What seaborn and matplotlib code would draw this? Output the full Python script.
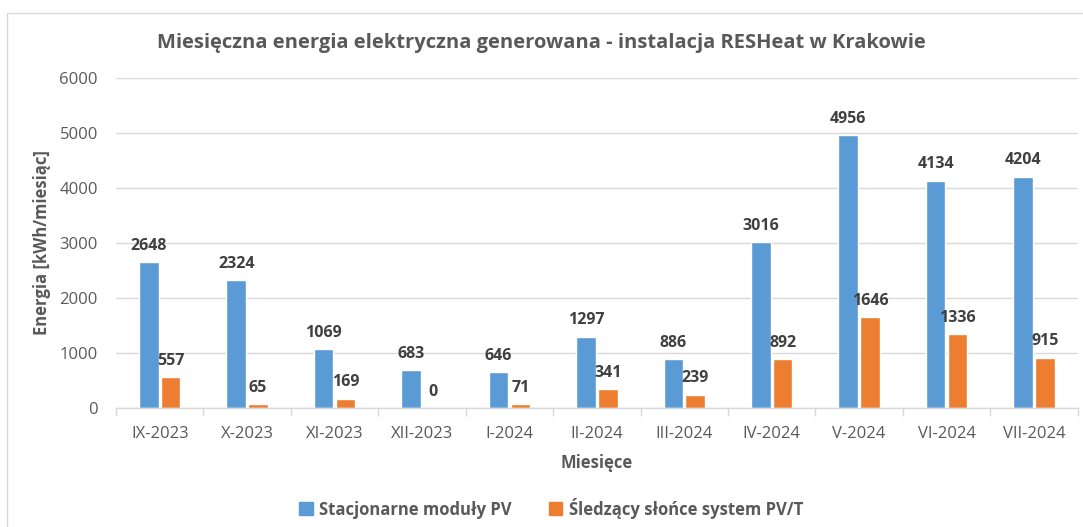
import numpy as np
import pandas as pd
import matplotlib
matplotlib.use("Agg")
import matplotlib.pyplot as plt
from matplotlib.patches import Rectangle
import seaborn as sns

months = ["IX-2023", "X-2023", "XI-2023", "XII-2023", "I-2024", "II-2024",
          "III-2024", "IV-2024", "V-2024", "VI-2024", "VII-2024"]
pv_fixed = [2648, 2324, 1069, 683, 646, 1297, 886, 3016, 4956, 4134, 4204]
pvt_tracking = [557, 65, 169, 0, 71, 341, 239, 892, 1646, 1336, 915]
series = ["Stacjonarne moduły PV", "Śledzący słońce system PV/T"]
colors = ["#5B9BD5", "#ED7D31"]

df = pd.DataFrame({
    "month": months * 2,
    "value": pv_fixed + pvt_tracking,
    "series": [series[0]] * len(months) + [series[1]] * len(months),
})

sns.set_theme(style="white")
plt.rcParams["font.family"] = ["Open Sans", "DejaVu Sans"]
TXT = "#595959"

fig = plt.figure(figsize=(10.83, 5.27), dpi=100)
ax = fig.add_axes([0.1071, 0.226, 0.888, 0.626])

sns.barplot(data=df, x="month", y="value", hue="series", palette=colors,
            width=0.5, gap=0.1, ax=ax, legend=True, saturation=1)

for cont in ax.containers:
    ax.bar_label(cont, labels=[f"{int(v)}" for v in cont.datavalues],
                 padding=6, fontsize=11.5, fontweight="bold", color="#404040")

ax.set_ylim(0, 6000)
ax.set_yticks(range(0, 6001, 1000))
ax.set_xlim(-0.5, len(months) - 0.5)
ax.yaxis.grid(True, color="#D9D9D9", linewidth=1)
ax.set_axisbelow(True)
for s in ["top", "right", "left"]:
    ax.spines[s].set_visible(False)
ax.spines["bottom"].set_color("#D9D9D9")
ax.spines["bottom"].set_linewidth(1)

ax.tick_params(axis="y", length=0, labelsize=12, labelcolor=TXT, pad=13)
ax.tick_params(axis="x", length=0, labelsize=12, labelcolor=TXT, pad=13)
ax.set_xticks(np.arange(-0.5, len(months), 1.0), minor=True)
ax.tick_params(axis="x", which="minor", length=6, color="#D9D9D9", width=1,
               direction="out", bottom=True)

ax.set_xlabel("Miesięce", fontsize=12, fontweight="bold", color=TXT, labelpad=9)
ax.set_ylabel("Energia [kWh/miesiąc]", fontsize=12, fontweight="bold", color=TXT,
              labelpad=6)

fig.text(0.5, 0.918, "Miesięczna energia elektryczna generowana - instalacja RESHeat w Krakowie",
         ha="center", va="center", fontsize=14.5, fontweight="bold", color=TXT)

ax.legend_.remove()
handles = [Rectangle((0, 0), 1, 1, color=c) for c in colors]
fig.legend(handles, series, loc="center", bbox_to_anchor=(0.509, 0.036), ncol=2,
           frameon=False, handlelength=0.8, handleheight=0.8, handletextpad=0.4,
           columnspacing=2.2, prop={"size": 12, "weight": "bold"}, labelcolor=TXT)

fig.patches.append(Rectangle((0.0065, -0.01), 1.0, 0.985, transform=fig.transFigure,
                             fill=False, edgecolor="#D9D9D9", linewidth=1))

fig.savefig("out.png", dpi=100, facecolor="white")
